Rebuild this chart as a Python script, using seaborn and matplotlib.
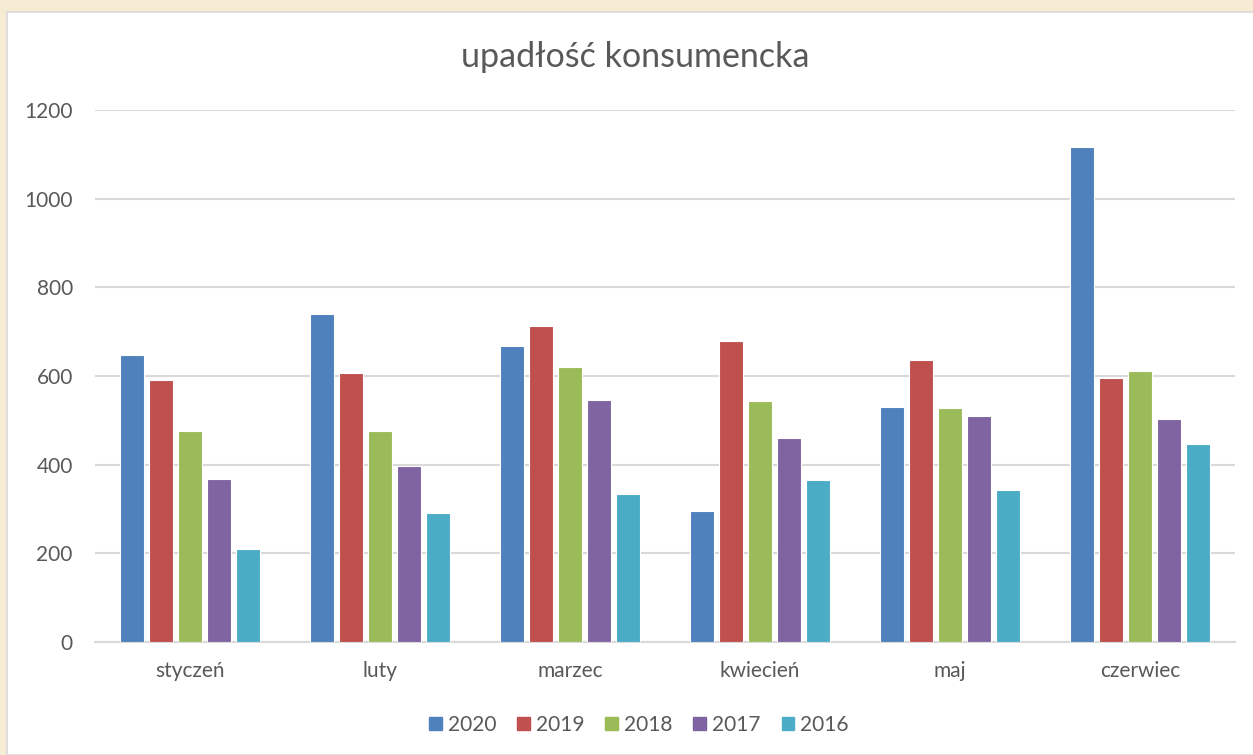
import matplotlib.pyplot as plt
import matplotlib.patches as mpatches
import pandas as pd
import seaborn as sns

months = ["styczeń", "luty", "marzec", "kwiecień", "maj", "czerwiec"]
years = ["2020", "2019", "2018", "2017", "2016"]
v2020 = [648, 740, 667, 296, 531, 1116]
v2019 = [591, 607, 713, 680, 635, 596]
v2018 = [476, 476, 620, 544, 528, 612]
v2017 = [367, 398, 546, 460, 510, 502]
v2016 = [210, 292, 334, 366, 343, 447]
colors = ["#4F81BD", "#C0504D", "#9BBB59", "#8064A2", "#4BACC6"]

rows = []
for year, vals in zip(years, [v2020, v2019, v2018, v2017, v2016]):
    for m, v in zip(months, vals):
        rows.append({"miesiac": m, "rok": year, "wartosc": v})
df = pd.DataFrame(rows)

sns.set_style("white")
plt.rcParams["font.family"] = ["Lato", "DejaVu Sans"]
text_col = "#595959"

fig = plt.figure(figsize=(12.53, 7.55), dpi=100)
fig.patch.set_facecolor("#F6ECD4")
panel = mpatches.Rectangle((7 / 1253, 0), 1, 1 - 12 / 755, transform=fig.transFigure,
                           facecolor="white", edgecolor="#D9D9D9", linewidth=1.2, zorder=-10)
fig.patches.append(panel)
ax = fig.add_axes([95 / 1253, 1 - 642 / 755, 1140 / 1253, 532 / 755])
ax.set_facecolor("none")

sns.barplot(data=df, x="miesiac", y="wartosc", hue="rok", hue_order=years, order=months,
            palette=colors, width=0.763, gap=0.2, edgecolor="white", linewidth=0.8,
            saturation=1, ax=ax, legend=False, zorder=3)

ax.set_ylim(0, 1200)
ax.set_yticks(range(0, 1201, 200))
ax.set_xlim(-0.5, 5.5)
ax.yaxis.grid(True, color="#D9D9D9", linewidth=1.5, zorder=0)
ax.set_axisbelow(True)
for s in ["top", "right", "left"]:
    ax.spines[s].set_visible(False)
ax.spines["bottom"].set_color("#D9D9D9")
ax.spines["bottom"].set_linewidth(1.5)
ax.tick_params(axis="both", length=0, labelsize=15, labelcolor=text_col)
ax.tick_params(axis="y", pad=16)
ax.tick_params(axis="x", pad=14)
ax.set_xlabel("")
ax.set_ylabel("")

fig.text(0.507, 1 - 57 / 755, "upadłość konsumencka", ha="center", va="center",
         fontsize=24.5, color=text_col)

handles = [mpatches.Patch(color=c, label=y) for c, y in zip(colors, years)]
fig.legend(handles=handles, loc="center", bbox_to_anchor=(0.51, 1 - 725 / 755), ncol=5,
           frameon=False, fontsize=15, labelcolor=text_col, handlelength=0.6,
           handleheight=0.6, handletextpad=0.3, columnspacing=1.0)

fig.savefig("out.png", dpi=100, facecolor=fig.get_facecolor())
